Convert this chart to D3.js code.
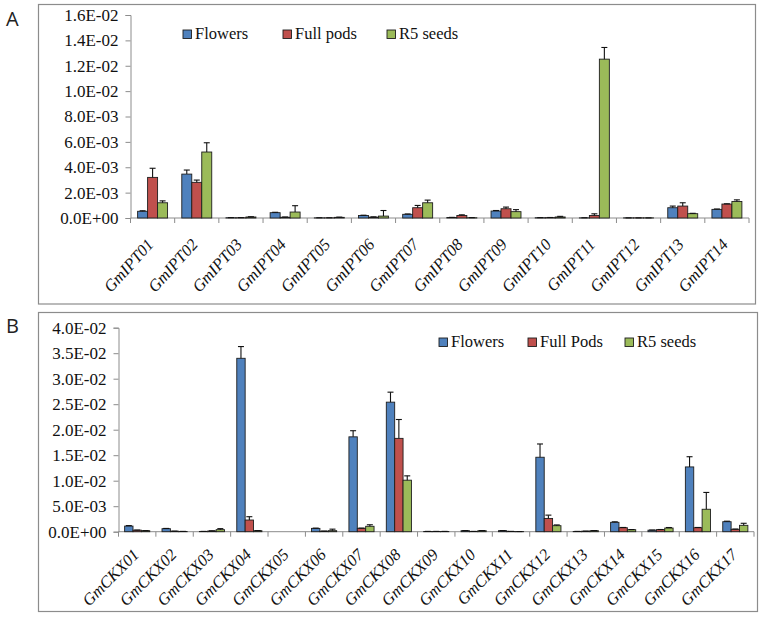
<!DOCTYPE html>
<html>
<head>
<meta charset="utf-8">
<script src="https://cdn.jsdelivr.net/npm/d3@7"></script>
<style>
  html, body { margin: 0; padding: 0; background: #fff; }
  svg { display: block; }
</style>
</head>
<body>
<svg id="chart" width="762" height="617"></svg>
<script>
// ---------- DATA ----------
const seriesNames = ["Flowers", "Full pods", "R5 seeds"];
const seriesNamesB = ["Flowers", "Full Pods", "R5 seeds"];

const iptCats = ["GmIPT01","GmIPT02","GmIPT03","GmIPT04","GmIPT05","GmIPT06","GmIPT07",
                 "GmIPT08","GmIPT09","GmIPT10","GmIPT11","GmIPT12","GmIPT13","GmIPT14"];
const iptFlowers    = [5.3e-4, 3.46e-3, 2e-5, 4.2e-4, 1e-5, 2e-4, 2.9e-4, 4e-5, 5.5e-4, 2e-5, 1e-5, 1e-5, 8.1e-4, 6.8e-4];
const iptFlowersErr = [4e-5, 3.2e-4, 1e-5, 3e-5, 1e-5, 2e-5, 3e-5, 1e-5, 4e-5, 1e-5, 1e-5, 0, 1.3e-4, 3e-5];
const iptPods       = [3.2e-3, 2.81e-3, 2e-5, 6e-5, 1e-5, 7e-5, 8.1e-4, 2e-4, 7.3e-4, 3e-5, 2e-4, 1e-5, 9.4e-4, 1.1e-3];
const iptPodsErr    = [7.2e-4, 1.8e-4, 1e-5, 2e-5, 1e-5, 2e-5, 1.8e-4, 5e-5, 1.3e-4, 1e-5, 1.3e-4, 0, 2.6e-4, 2e-5];
const iptSeeds      = [1.2e-3, 5.2e-3, 8e-5, 4.7e-4, 5e-5, 1.5e-4, 1.2e-3, 2e-5, 5e-4, 8e-5, 1.252e-2, 1e-5, 3.4e-4, 1.3e-3];
const iptSeedsErr   = [1.5e-4, 7.3e-4, 2e-5, 5e-4, 2e-5, 4.4e-4, 2.1e-4, 1e-5, 1.6e-4, 5e-5, 9.2e-4, 0, 3e-5, 1.3e-4];
const iptTicks = [0, 0.002, 0.004, 0.006, 0.008, 0.010, 0.012, 0.014, 0.016];

const ckxCats = ["GmCKX01","GmCKX02","GmCKX03","GmCKX04","GmCKX05","GmCKX06","GmCKX07","GmCKX08","GmCKX09",
                 "GmCKX10","GmCKX11","GmCKX12","GmCKX13","GmCKX14","GmCKX15","GmCKX16","GmCKX17"];
const ckxFlowers    = [1.1e-3, 5.9e-4, 5e-5, 3.4e-2, 0, 6.5e-4, 1.86e-2, 2.54e-2, 5e-5, 2e-4, 2e-4, 1.46e-2, 5e-5, 1.84e-3, 3e-4, 1.27e-2, 1.96e-3];
const ckxFlowersErr = [1e-4, 5e-5, 1e-5, 2.3e-3, 0, 5e-5, 1.2e-3, 1.96e-3, 1e-5, 2e-5, 2e-5, 2.6e-3, 1e-5, 1e-4, 3e-5, 2e-3, 1e-4];
const ckxPods       = [3e-4, 1e-4, 1.5e-4, 2.29e-3, 0, 1e-4, 6.6e-4, 1.83e-2, 5e-5, 5e-5, 5e-5, 2.6e-3, 1e-4, 7.8e-4, 4e-4, 7.8e-4, 4.7e-4];
const ckxPodsErr    = [2e-5, 1e-5, 2e-5, 6.5e-4, 0, 2e-5, 5e-5, 3.7e-3, 1e-5, 1e-5, 1e-5, 6.5e-4, 1e-5, 5e-5, 3e-5, 5e-5, 5e-5];
const ckxSeeds      = [2e-4, 5e-5, 4e-4, 2e-4, 0, 2e-4, 1.06e-3, 1.01e-2, 5e-5, 2e-4, 2e-5, 1.18e-3, 2e-4, 3.9e-4, 7.2e-4, 4.4e-3, 1.25e-3];
const ckxSeedsErr   = [1e-5, 1e-5, 2e-4, 2e-5, 0, 3e-4, 3e-4, 8.5e-4, 1e-5, 2e-5, 1e-5, 1.5e-4, 2e-5, 3e-5, 1e-4, 3.3e-3, 4e-4];
const ckxTicks = [0, 0.005, 0.010, 0.015, 0.020, 0.025, 0.030, 0.035, 0.040];

const colors = ["#4F81BD", "#C0504D", "#9BBB59"];

// ---------- HELPERS ----------
function sci(v) {
  if (v === 0) return "0.0E+00";
  const s = d3.format(".1e")(v);
  const [m, e] = s.split("e");
  const n = +e;
  const sign = n < 0 ? "-" : "+";
  return m + "E" + sign + String(Math.abs(n)).padStart(2, "0");
}

const svg = d3.select("#chart");
const SERIF = '"Liberation Serif", "Times New Roman", serif';

function panel(cfg) {
  const g = svg.append("g");
  g.append("rect")
    .attr("x", cfg.frame[0]).attr("y", cfg.frame[1])
    .attr("width", cfg.frame[2]).attr("height", cfg.frame[3])
    .attr("fill", "none").attr("stroke", "#8c8c8c").attr("stroke-width", 1.2);
  g.append("text").attr("x", cfg.letterPos[0]).attr("y", cfg.letterPos[1])
    .style("font-family", '"Open Sans", "Liberation Sans", sans-serif')
    .style("font-size", "20px").attr("fill", "#222").text(cfg.letter);

  const x = d3.scaleBand().domain(cfg.cats).range(cfg.xRange).paddingInner(0).paddingOuter(0);
  const y = d3.scaleLinear().domain([0, cfg.yMax]).range(cfg.yRange);
  const bw = x.bandwidth() * cfg.barFrac;
  const x0 = (x.bandwidth() - 3 * bw) / 2;

  const yAxis = d3.axisLeft(y).tickValues(cfg.ticks).tickFormat(sci).tickSize(5).tickPadding(7);
  const ya = g.append("g").attr("transform", `translate(${cfg.xRange[0]},0)`).call(yAxis);
  ya.attr("font-family", null).attr("font-size", null);
  ya.select(".domain").attr("stroke", "#8c8c8c");
  ya.selectAll(".tick line").attr("stroke", "#8c8c8c");
  ya.selectAll("text").style("font-family", SERIF).style("font-size", "17px").attr("fill", "#111");

  const base = y(0);
  g.append("line").attr("x1", cfg.xRange[0]).attr("x2", cfg.xRange[1])
    .attr("y1", base).attr("y2", base).attr("stroke", "#8c8c8c");
  const bounds = cfg.cats.map(c => x(c)).concat([x(cfg.cats[cfg.cats.length - 1]) + x.bandwidth()]);
  g.selectAll(".xt").data(bounds).join("line")
    .attr("x1", d => d).attr("x2", d => d)
    .attr("y1", base).attr("y2", base + 5).attr("stroke", "#8c8c8c");

  cfg.series.forEach((s, si) => {
    const gs = g.append("g");
    gs.selectAll("rect").data(cfg.cats).join("rect")
      .attr("x", (c) => x(c) + x0 + si * bw)
      .attr("y", (c, i) => y(s.vals[i]))
      .attr("width", bw)
      .attr("height", (c, i) => base - y(s.vals[i]))
      .attr("fill", colors[si])
      .attr("stroke", "#1e1e1e").attr("stroke-width", 0.9);
    cfg.cats.forEach((c, i) => {
      if (s.vals[i] === 0 && s.errs[i] === 0) return;
      const cx = x(c) + x0 + si * bw + bw / 2;
      const yTop = y(s.vals[i] + s.errs[i]);
      gs.append("line").attr("x1", cx).attr("x2", cx)
        .attr("y1", y(s.vals[i])).attr("y2", yTop)
        .attr("stroke", "#111").attr("stroke-width", 1.1);
      gs.append("line").attr("x1", cx - 3).attr("x2", cx + 3)
        .attr("y1", yTop).attr("y2", yTop)
        .attr("stroke", "#111").attr("stroke-width", 1.1);
    });
  });

  g.selectAll(".cl").data(cfg.cats).join("text")
    .attr("transform", c => `translate(${x(c) + x.bandwidth() / 2 + cfg.labelDx},${base + cfg.labelDy}) rotate(${cfg.labelRot})`)
    .attr("text-anchor", "end")
    .style("font-family", SERIF).style("font-style", "italic")
    .style("font-size", "16.5px").attr("fill", "#111")
    .text(c => c);

  cfg.legend.forEach((L, i) => {
    g.append("rect").attr("x", L).attr("y", cfg.legendY - 8.5)
      .attr("width", 8.5).attr("height", 8.5)
      .attr("fill", colors[i]).attr("stroke", "#1e1e1e").attr("stroke-width", 0.9);
    g.append("text").attr("x", L + 12).attr("y", cfg.legendY)
      .style("font-family", SERIF).style("font-size", "16.5px").attr("fill", "#111")
      .text(cfg.names[i]);
  });
}

panel({
  letter: "A", letterPos: [6, 26],
  frame: [38.5, 4.5, 717, 299.5],
  cats: iptCats, xRange: [130.5, 749], yRange: [218, 15], yMax: 0.016, ticks: iptTicks,
  barFrac: 0.226,
  series: [
    { vals: iptFlowers, errs: iptFlowersErr },
    { vals: iptPods, errs: iptPodsErr },
    { vals: iptSeeds, errs: iptSeedsErr }
  ],
  labelDx: 2, labelDy: 27, labelRot: -48,
  names: seriesNames, legendY: 38.5, legend: [183, 283, 387]
});

panel({
  letter: "B", letterPos: [6, 333],
  frame: [38.5, 312.5, 719, 299],
  cats: ckxCats, xRange: [118.5, 754], yRange: [531.7, 327.7], yMax: 0.04, ticks: ckxTicks,
  barFrac: 0.224,
  series: [
    { vals: ckxFlowers, errs: ckxFlowersErr },
    { vals: ckxPods, errs: ckxPodsErr },
    { vals: ckxSeeds, errs: ckxSeedsErr }
  ],
  labelDx: 3, labelDy: 24, labelRot: -45,
  names: seriesNamesB, legendY: 346.5, legend: [439, 528, 625]
});
</script>
</body>
</html>
